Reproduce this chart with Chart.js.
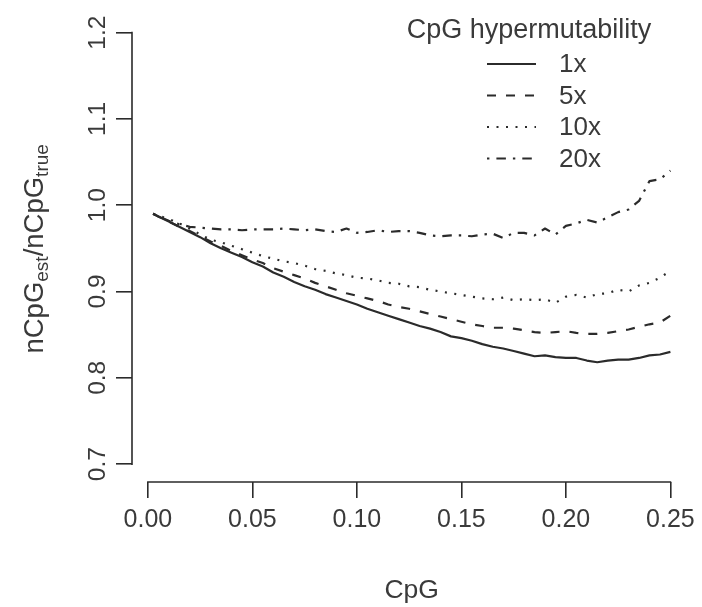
<!DOCTYPE html>
<html>
<head>
<meta charset="utf-8">
<script src="https://cdn.jsdelivr.net/npm/chart.js@4.4.1/dist/chart.umd.min.js"></script>
<style>
html,body{margin:0;padding:0;background:#fff;}
canvas{display:block;}
</style>
</head>
<body>
<canvas id="c" width="702" height="607"></canvas>
<script>
// ---- data ----
const cpg = [0.0025,0.005,0.01,0.015,0.02,0.025,0.03,0.035,0.04,0.045,0.05,0.055,0.06,0.065,0.07,0.075,0.08,0.085,0.09,0.095,0.10,0.105,0.11,0.115,0.12,0.125,0.13,0.135,0.14,0.145,0.15,0.155,0.16,0.165,0.17,0.175,0.18,0.185,0.19,0.195,0.20,0.205,0.21,0.215,0.22,0.225,0.23,0.235,0.24,0.245,0.25];
const hyper1x = [0.990,0.987,0.981,0.975,0.969,0.963,0.956,0.950,0.945,0.940,0.934,0.929,0.922,0.917,0.911,0.906,0.902,0.897,0.893,0.889,0.885,0.880,0.876,0.872,0.868,0.864,0.860,0.857,0.853,0.848,0.846,0.843,0.839,0.836,0.834,0.831,0.828,0.825,0.826,0.824,0.823,0.823,0.820,0.818,0.820,0.821,0.821,0.823,0.826,0.827,0.830];
const hyper5x = [0.990,0.987,0.981,0.975,0.970,0.964,0.958,0.953,0.947,0.942,0.937,0.933,0.927,0.923,0.919,0.915,0.910,0.906,0.902,0.898,0.895,0.892,0.889,0.885,0.882,0.880,0.877,0.874,0.871,0.868,0.865,0.862,0.860,0.858,0.858,0.857,0.855,0.853,0.852,0.853,0.854,0.852,0.851,0.851,0.852,0.854,0.856,0.859,0.862,0.864,0.872];
const hyper10x = [0.990,0.988,0.984,0.979,0.973,0.966,0.960,0.957,0.953,0.949,0.945,0.941,0.938,0.935,0.933,0.930,0.926,0.924,0.921,0.919,0.916,0.915,0.913,0.910,0.909,0.906,0.905,0.902,0.900,0.898,0.896,0.894,0.892,0.891,0.893,0.890,0.891,0.890,0.891,0.887,0.894,0.896,0.893,0.897,0.898,0.902,0.900,0.907,0.910,0.916,0.924];
const hyper20x = [0.990,0.987,0.982,0.978,0.975,0.974,0.973,0.972,0.972,0.971,0.972,0.972,0.972,0.973,0.972,0.971,0.972,0.970,0.969,0.973,0.968,0.969,0.971,0.969,0.970,0.970,0.968,0.965,0.964,0.965,0.965,0.964,0.966,0.967,0.962,0.968,0.968,0.965,0.973,0.966,0.976,0.979,0.983,0.980,0.986,0.992,0.995,1.005,1.028,1.030,1.040];
const seriesNames = ['1x','5x','10x','20x'];
const legendTitle = 'CpG hypermutability';
const xTickValues = [0, 0.05, 0.10, 0.15, 0.20, 0.25];
const xTickLabels = ['0.00','0.05','0.10','0.15','0.20','0.25'];
const yTickValues = [0.7, 0.8, 0.9, 1.0, 1.1, 1.2];
const yTickLabels = ['0.7','0.8','0.9','1.0','1.1','1.2'];
const xTitle = 'CpG';

// ---- styling ----
const FONT = "'Liberation Sans', Arial, Helvetica, sans-serif";
const INK = '#2b2b2b';
const TXT = '#3a3a3a';
const dashes = [[], [9, 10], [2, 7.5], [2.4, 7, 9.5, 7]];

const allSeries = [hyper1x, hyper5x, hyper10x, hyper20x];
const datasets = allSeries.map((vals, i) => ({
  label: seriesNames[i],
  data: cpg.map((x, j) => ({x: x, y: vals[j]})),
  borderColor: INK,
  borderWidth: 2.2,
  borderDash: dashes[i],
  borderCapStyle: 'butt',
  borderJoinStyle: 'round',
  pointRadius: 0,
  tension: 0,
  fill: false
}));

// R-style axis lines (only spanning first..last tick), y title, legend
const rAxes = {
  id: 'rAxes',
  afterDraw(chart) {
    const {ctx, chartArea, scales} = chart;
    const xs = scales.x, ys = scales.y;
    ctx.save();
    ctx.strokeStyle = INK;
    ctx.lineWidth = 1.6;
    ctx.lineCap = 'square';
    ctx.beginPath();
    const xl = chartArea.left;
    ctx.moveTo(xl, ys.getPixelForValue(yTickValues[0]));
    ctx.lineTo(xl, ys.getPixelForValue(yTickValues[yTickValues.length-1]));
    const yb = chartArea.bottom;
    ctx.moveTo(xs.getPixelForValue(xTickValues[0]), yb);
    ctx.lineTo(xs.getPixelForValue(xTickValues[xTickValues.length-1]), yb);
    ctx.stroke();

    // y axis title with subscripts
    const big = 27.5, small = 19;
    const parts = [
      {t: 'nCpG', s: big, sub: false},
      {t: 'est', s: small, sub: true},
      {t: '/', s: big, sub: false},
      {t: 'nCpG', s: big, sub: false},
      {t: 'true', s: small, sub: true}
    ];
    let total = 0;
    parts.forEach(p => { ctx.font = p.s + 'px ' + FONT; p.w = ctx.measureText(p.t).width; total += p.w; });
    const cy = (chartArea.top + chartArea.bottom) / 2;
    const cx = 33;
    ctx.translate(cx, cy);
    ctx.rotate(-Math.PI / 2);
    ctx.fillStyle = TXT;
    ctx.textBaseline = 'alphabetic';
    ctx.textAlign = 'left';
    let pos = -total / 2;
    const base = big * 0.36;
    parts.forEach(p => {
      ctx.font = p.s + 'px ' + FONT;
      ctx.fillText(p.t, pos, base + (p.sub ? 5 : 0));
      pos += p.w;
    });
    ctx.restore();

    // legend (R style, inside plot)
    ctx.save();
    ctx.fillStyle = TXT;
    ctx.font = '27px ' + FONT;
    ctx.textAlign = 'center';
    ctx.textBaseline = 'middle';
    ctx.fillText(legendTitle, 529, 31);
    ctx.font = '26px ' + FONT;
    chart.data.datasets.forEach((ds, i) => {
      const y = 64 + i * 31.5;
      ctx.strokeStyle = ds.borderColor;
      ctx.lineWidth = ds.borderWidth;
      ctx.setLineDash(ds.borderDash || []);
      ctx.beginPath();
      ctx.moveTo(487, y);
      ctx.lineTo(536, y);
      ctx.stroke();
      ctx.setLineDash([]);
      ctx.textAlign = 'left';
      ctx.fillText(ds.label, 559, y + 1);
    });
    ctx.restore();
  }
};

new Chart(document.getElementById('c'), {
  type: 'line',
  data: {datasets},
  options: {
    responsive: false,
    animation: false,
    devicePixelRatio: 1,
    layout: {padding: {left: 0, right: 7, top: 13, bottom: 0}},
    plugins: {legend: {display: false}, tooltip: {enabled: false}, title: {display: false}},
    scales: {
      x: {
        type: 'linear',
        min: -0.0076,
        max: 0.25998,
        afterBuildTicks: s => { s.ticks = xTickValues.map(v => ({value: v})); },
        afterFit: s => { s.height = 125; },
        border: {display: false},
        grid: {drawOnChartArea: false, drawTicks: true, tickLength: 16, color: INK, lineWidth: 1.6},
        ticks: {
          autoSkip: false, maxRotation: 0, minRotation: 0,
          padding: 7,
          color: TXT,
          font: {family: FONT, size: 25},
          callback: (v, i) => xTickLabels[i]
        },
        title: {display: true, text: xTitle, color: TXT, font: {family: FONT, size: 26.5}, padding: {top: 0, bottom: 0}}
      },
      y: {
        type: 'linear',
        min: 0.67926,
        max: 1.2196,
        afterBuildTicks: s => { s.ticks = yTickValues.map(v => ({value: v})); },
        afterFit: s => { s.width = 132; },
        border: {display: false},
        grid: {drawOnChartArea: false, drawTicks: true, tickLength: 16, color: INK, lineWidth: 1.6},
        ticks: {
          autoSkip: false, minRotation: 90, maxRotation: 90,
          crossAlign: 'center',
          padding: 1,
          color: TXT,
          font: {family: FONT, size: 24.5},
          callback: (v, i) => yTickLabels[i]
        }
      }
    }
  },
  plugins: [rAxes]
});
</script>
</body>
</html>
